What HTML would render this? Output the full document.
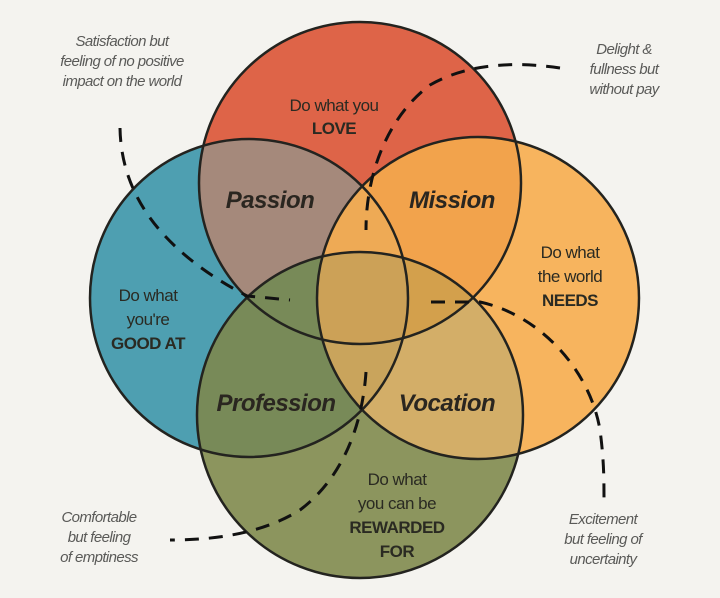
<!DOCTYPE html>
<html><head><meta charset="utf-8"><style>
html,body{margin:0;padding:0;background:#f4f3ef;}
svg{display:block}
.lab{font-family:"Liberation Sans",sans-serif;font-size:17px;fill:#2a2a22;text-anchor:middle;letter-spacing:-0.5px}
.b{font-weight:bold}
.big{font-family:"Liberation Sans",sans-serif;font-size:24px;font-weight:bold;font-style:italic;fill:#2a2620;text-anchor:middle;letter-spacing:-0.5px}
.ann{font-family:"Liberation Sans",sans-serif;font-size:15px;font-style:italic;fill:#5a5a58;text-anchor:middle;letter-spacing:-0.6px}
</style></head><body>
<svg width="720" height="598" viewBox="0 0 720 598" xmlns="http://www.w3.org/2000/svg">
<defs>
<clipPath id="cT"><circle cx="360" cy="183" r="161"/></clipPath>
<clipPath id="cL"><circle cx="249" cy="298" r="159"/></clipPath>
<clipPath id="cR"><circle cx="478" cy="298" r="161"/></clipPath>
<clipPath id="cB"><circle cx="360" cy="415" r="163"/></clipPath>
</defs>
<rect width="720" height="598" fill="#f4f3ef"/>
<circle cx="360" cy="183" r="161" fill="#de6448"/>
<circle cx="249" cy="298" r="159" fill="#4e9fb1"/>
<circle cx="478" cy="298" r="161" fill="#f7b45e"/>
<circle cx="360" cy="415" r="163" fill="#8c955e"/>
<g clip-path="url(#cT)"><circle cx="249" cy="298" r="159" fill="#a5897b"/><circle cx="478" cy="298" r="161" fill="#f2a34c"/><circle cx="360" cy="415" r="163" fill="#8c8a52"/></g>
<g clip-path="url(#cB)"><circle cx="249" cy="298" r="159" fill="#788a58"/><circle cx="478" cy="298" r="161" fill="#d3ae68"/></g>
<g clip-path="url(#cT)"><g clip-path="url(#cL)"><circle cx="478" cy="298" r="161" fill="#eeaa55"/></g></g>
<g clip-path="url(#cT)"><g clip-path="url(#cR)"><circle cx="360" cy="415" r="163" fill="#d3a04c"/></g></g>
<g clip-path="url(#cB)"><g clip-path="url(#cL)"><circle cx="478" cy="298" r="161" fill="#c9a45c"/></g></g>
<g clip-path="url(#cT)"><g clip-path="url(#cB)"><g clip-path="url(#cL)"><circle cx="478" cy="298" r="161" fill="#cca157"/></g></g></g>
<g fill="none" stroke="#23231f" stroke-width="2.5">
<circle cx="360" cy="183" r="161"/>
<circle cx="249" cy="298" r="159"/>
<circle cx="478" cy="298" r="161"/>
<circle cx="360" cy="415" r="163"/>
</g>
<g fill="none" stroke="#111" stroke-width="3" stroke-dasharray="14,10">
<path d="M120,128 C121,185 150,245 247,296 L290,300"/>
<path d="M560,68 C520,62 470,62 430,85 C390,115 366,170 366,230"/>
<path d="M431,302 L480,302 C540,315 590,370 600,430 C604,460 604,480 604,500"/>
<path d="M366,372 C362,430 340,480 300,510 C260,535 210,540 170,540"/>
</g>
<text class="lab" x="334" y="111">Do what you</text>
<text class="lab b" x="334" y="134">LOVE</text>
<text class="big" x="270" y="208">Passion</text>
<text class="big" x="452" y="208">Mission</text>
<text class="lab" x="148" y="301">Do what</text>
<text class="lab" x="148" y="325">you're</text>
<text class="lab b" x="148" y="349">GOOD AT</text>
<text class="lab" x="570" y="258">Do what</text>
<text class="lab" x="570" y="282">the world</text>
<text class="lab b" x="570" y="306">NEEDS</text>
<text class="big" x="276" y="411">Profession</text>
<text class="big" x="447" y="411">Vocation</text>
<text class="lab" x="397" y="485">Do what</text>
<text class="lab" x="397" y="509">you can be</text>
<text class="lab b" x="397" y="533">REWARDED</text>
<text class="lab b" x="397" y="557">FOR</text>
<text class="ann" x="122" y="46">Satisfaction but</text>
<text class="ann" x="122" y="66">feeling of no positive</text>
<text class="ann" x="122" y="86">impact on the world</text>
<text class="ann" x="624" y="54">Delight &amp;</text>
<text class="ann" x="624" y="74">fullness but</text>
<text class="ann" x="624" y="94">without pay</text>
<text class="ann" x="99" y="522">Comfortable</text>
<text class="ann" x="99" y="542">but feeling</text>
<text class="ann" x="99" y="562">of emptiness</text>
<text class="ann" x="603" y="524">Excitement</text>
<text class="ann" x="603" y="544">but feeling of</text>
<text class="ann" x="603" y="564">uncertainty</text>
</svg>
</body></html>
